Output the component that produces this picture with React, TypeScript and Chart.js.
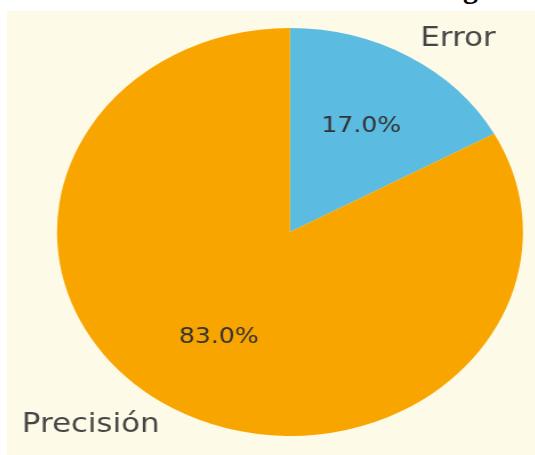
import React, { useEffect, useRef } from "react";
import { Chart, registerables } from "chart.js";

Chart.register(...registerables);

const categories = ["Error", "Precisión"];
const values = [17.0, 83.0];
const sliceColors = ["#5bbbe0", "#f8a500"];

const STRETCH_X = 1.142;
const CANVAS_W = 462;
const CANVAS_H = 444;

const labelPlugin = {
  id: "pieLabels",
  afterDatasetsDraw(chart: any) {
    const ctx = chart.ctx;
    const meta = chart.getDatasetMeta(0);
    const total = values.reduce((a, b) => a + b, 0);
    ctx.save();
    ctx.textBaseline = "middle";
    meta.data.forEach((arc: any, i: number) => {
      const { x, y, startAngle, endAngle, outerRadius } = arc.getProps(
        ["x", "y", "startAngle", "endAngle", "outerRadius"],
        true
      );
      const mid = (startAngle + endAngle) / 2;
      const c = Math.cos(mid);
      const s = Math.sin(mid);
      // percentage
      ctx.font = "22px 'DejaVu Sans'";
      ctx.fillStyle = "#333333";
      ctx.textAlign = "center";
      const pct = ((values[i] / total) * 100).toFixed(1) + "%";
      ctx.fillText(pct, x + c * outerRadius * 0.6, y + s * outerRadius * 0.6);
      // category label
      ctx.font = "27px 'DejaVu Sans'";
      ctx.fillStyle = "#454545";
      ctx.textAlign = c >= 0 ? "left" : "right";
      ctx.fillText(categories[i], x + c * outerRadius * 1.1, y + s * outerRadius * 1.1);
    });
    ctx.restore();
  },
};

export default function App() {
  const ref = useRef<HTMLCanvasElement | null>(null);

  useEffect(() => {
    if (!ref.current) return;
    const chart = new Chart(ref.current, {
      type: "pie",
      data: {
        labels: categories,
        datasets: [
          {
            data: values,
            backgroundColor: sliceColors,
            borderWidth: 0,
          },
        ],
      },
      options: {
        animation: false,
        responsive: false,
        devicePixelRatio: 1,
        layout: {
          padding: { left: 43.8, top: 17, right: 10.2, bottom: 19 },
        },
        plugins: {
          legend: { display: false },
          tooltip: { enabled: false },
          title: { display: false },
        },
      },
      plugins: [labelPlugin],
    });
    return () => chart.destroy();
  }, []);

  return (
    <div
      style={{
        position: "fixed",
        left: 0,
        top: 0,
        width: 535,
        height: 455,
        background: "#ffffff",
        overflow: "hidden",
      }}
    >
      <span
        style={{
          position: "absolute",
          left: 463,
          top: -27,
          fontFamily: "'Liberation Serif', serif",
          fontWeight: "bold",
          fontSize: 30,
          lineHeight: 1,
          color: "#000",
        }}
      >
        g
      </span>
      <div
        style={{
          position: "absolute",
          left: 7,
          top: 11,
          width: 528,
          height: 444,
          background: "#fefae8",
          overflow: "hidden",
        }}
      >
        <canvas
          ref={ref}
          width={CANVAS_W}
          height={CANVAS_H}
          style={{
            display: "block",
            width: CANVAS_W,
            height: CANVAS_H,
            transform: `scaleX(${STRETCH_X})`,
            transformOrigin: "0 0",
          }}
        />
      </div>
    </div>
  );
}
